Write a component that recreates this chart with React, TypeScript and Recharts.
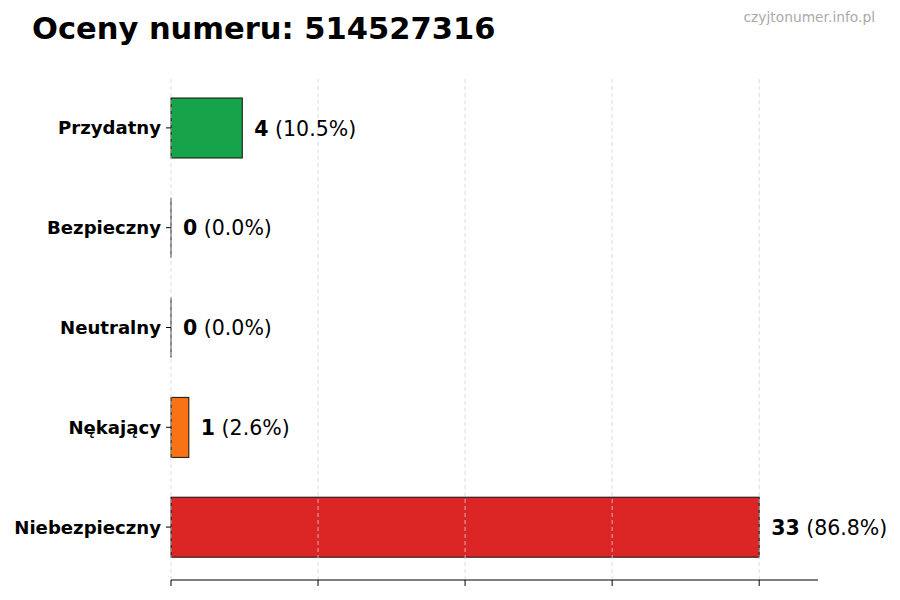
import { BarChart, Bar, XAxis, YAxis, Cell, LabelList, ReferenceLine } from 'recharts';

const categories = ['Przydatny', 'Bezpieczny', 'Neutralny', 'Nękający', 'Niebezpieczny'];
const counts = [4, 0, 0, 1, 33];
const colors = ['#16a34a', '#3b82f6', '#9ca3af', '#f97316', '#dc2626'];
const gridTicks = [0, 8.25, 16.5, 24.75, 33];

const total = counts.reduce((s, v) => s + v, 0);
const data = categories.map((name, i) => ({ name, value: counts[i], color: colors[i] }));

const FONT = '"DejaVu Sans", sans-serif';

// matplotlib draws an edge even for zero-length bars, Recharts skips them
const BarShape = (props: any) => {
    const { x, y, width, height, fill } = props;
    if (!width) {
        return <line x1={x} x2={x} y1={y} y2={y + height} stroke="#111" strokeWidth={1} />;
    }
    return <rect x={x} y={y} width={width} height={height} fill={fill} stroke="#111" strokeWidth={1} />;
};

// tick marks only, no labels on the value axis
const NoLabel = () => <g />;

const ValueLabel = (props: any) => {
    const { x, y, width, height, index } = props;
    const v = counts[index];
    const pct = total ? ((v / total) * 100).toFixed(1) : '0.0';
    return (
        <text x={x + width + 12} y={y + height / 2} dy={7.5} fontFamily={FONT} fontSize={20.5} fill="#000">
            <tspan fontWeight="bold">{v}</tspan>
            <tspan>{` (${pct}%)`}</tspan>
        </text>
    );
};

export default function App() {
    return (
        <div style={{ position: 'absolute', left: 0, top: 0, width: 900, height: 600, background: '#fff', fontFamily: FONT }}>
            <div style={{ position: 'absolute', left: 32, top: 11, fontSize: 30.5, fontWeight: 'bold', color: '#000', whiteSpace: 'nowrap' }}>
                Oceny numeru: 514527316
            </div>
            <div style={{ position: 'absolute', right: 25, top: 9, fontSize: 13.8, color: '#aaaaaa' }}>
                czyjtonumer.info.pl
            </div>
            <BarChart
                width={900}
                height={600}
                data={data}
                layout="vertical"
                margin={{ top: 78, right: 82, bottom: 0, left: 0 }}
            >
                <XAxis
                    type="number"
                    domain={[0, 36.3]}
                    ticks={gridTicks}
                    tick={<NoLabel />}
                    tickSize={6}
                    height={20}
                    stroke="#000"
                    axisLine={{ stroke: '#000' }}
                    tickLine={{ stroke: '#000' }}
                />
                <YAxis
                    type="category"
                    dataKey="name"
                    width={171}
                    axisLine={false}
                    padding={{ top: 0, bottom: 3 }}
                    tickSize={5}
                    tickMargin={5}
                    tickLine={{ stroke: '#000' }}
                    tick={{ fill: '#000', fontSize: 18.1, fontWeight: 'bold', fontFamily: FONT }}
                />
                <Bar dataKey="value" barSize={60} isAnimationActive={false} shape={<BarShape />}>
                    {data.map((d, i) => (
                        <Cell key={`cell-${i}`} fill={d.color} />
                    ))}
                    <LabelList dataKey="value" content={<ValueLabel />} />
                </Bar>
                {gridTicks.map((t) => (
                    <ReferenceLine key={t} x={t} stroke="#d4d4d4" strokeOpacity={0.8} strokeDasharray="4 3" strokeWidth={1} />
                ))}
            </BarChart>
        </div>
    );
}
